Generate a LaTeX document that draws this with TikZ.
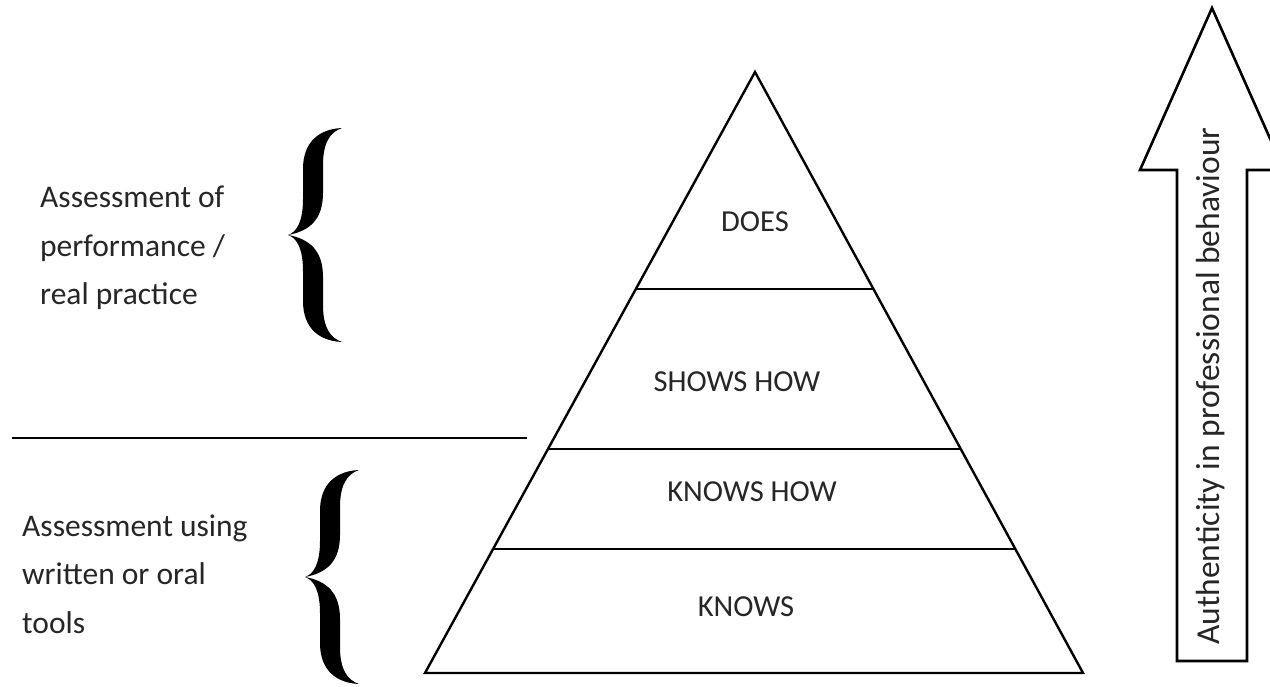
\documentclass[tikz,border=0pt]{standalone}
\usepackage{fontspec}
\setmainfont{Carlito}
\usetikzlibrary{calc}
\begin{document}
\begin{tikzpicture}[x=1pt,y=-1pt,
  lbl/.style={font=\fontsize{30.5}{48}\selectfont, inner sep=0pt, text=black!85},
  side/.style={align=left, anchor=west, font=\fontsize{31.5}{48.5}\selectfont},
  edge/.style={line width=2.4pt, line join=miter},
  divider/.style={line width=2.4pt},
  bracepic/.pic={
    \fill (0,0) .. controls (9,-3) and (15,-14) .. (15,-36) -- (15,-66)
      .. controls (15,-94) and (32,-106) .. (54,-107)
      .. controls (42,-103) and (35,-92) .. (35,-70) -- (35,-42)
      .. controls (35,-16) and (22,-4) .. (0,0) -- cycle;
    \fill (0,0) .. controls (9,3) and (15,14) .. (15,36) -- (15,66)
      .. controls (15,94) and (32,106) .. (54,107)
      .. controls (42,103) and (35,92) .. (35,70) -- (35,42)
      .. controls (35,16) and (22,4) .. (0,0) -- cycle;
  }
]
\clip (0,0) rectangle (1270,687);
\fill[white] (0,0) rectangle (1270,687);

% pyramid
\coordinate (apex) at (755,72);
\coordinate (bl) at (425,673);
\coordinate (br) at (1083,673);
\draw[edge] (apex) -- (bl) -- (br) -- cycle;
\draw[divider] ($(apex)!0.361!(bl)$) -- ($(apex)!0.361!(br)$);
\draw[divider] ($(apex)!0.627!(bl)$) -- ($(apex)!0.627!(br)$);
\draw[divider] ($(apex)!0.794!(bl)$) -- ($(apex)!0.794!(br)$);

\node[lbl] (does) at (755,222) {DOES};
\node[lbl] (shows) at (737,382) {SHOWS HOW};
\node[lbl] (knowshow) at (752,492) {KNOWS HOW};
\node[lbl] (knows) at (746,607) {KNOWS};

% separator line
\coordinate (sepL) at (12,438);
\coordinate (sepR) at (527,438);
\draw[line width=2pt] (sepL) -- (sepR);

% left labels
\node[lbl, side] (perf) at (40,248) {Assessment of\\performance /\\real practice};
\node[lbl, side] (written) at (22,574) {Assessment using\\written or oral\\tools};

% braces
\pic at (288,235) {bracepic};
\pic at (305,577) {bracepic};

% arrow
\draw[line width=2.6pt, line join=miter, fill=white]
  (1177,661) -- (1177,170) -- (1140,170) -- (1212,8) -- (1284,170)
  -- (1247,170) -- (1247,661) -- cycle;
\node[lbl, rotate=90, font=\fontsize{33.5}{40}\selectfont] (auth) at (1211,386) {Authenticity in professional behaviour};
\end{tikzpicture}
\end{document}
